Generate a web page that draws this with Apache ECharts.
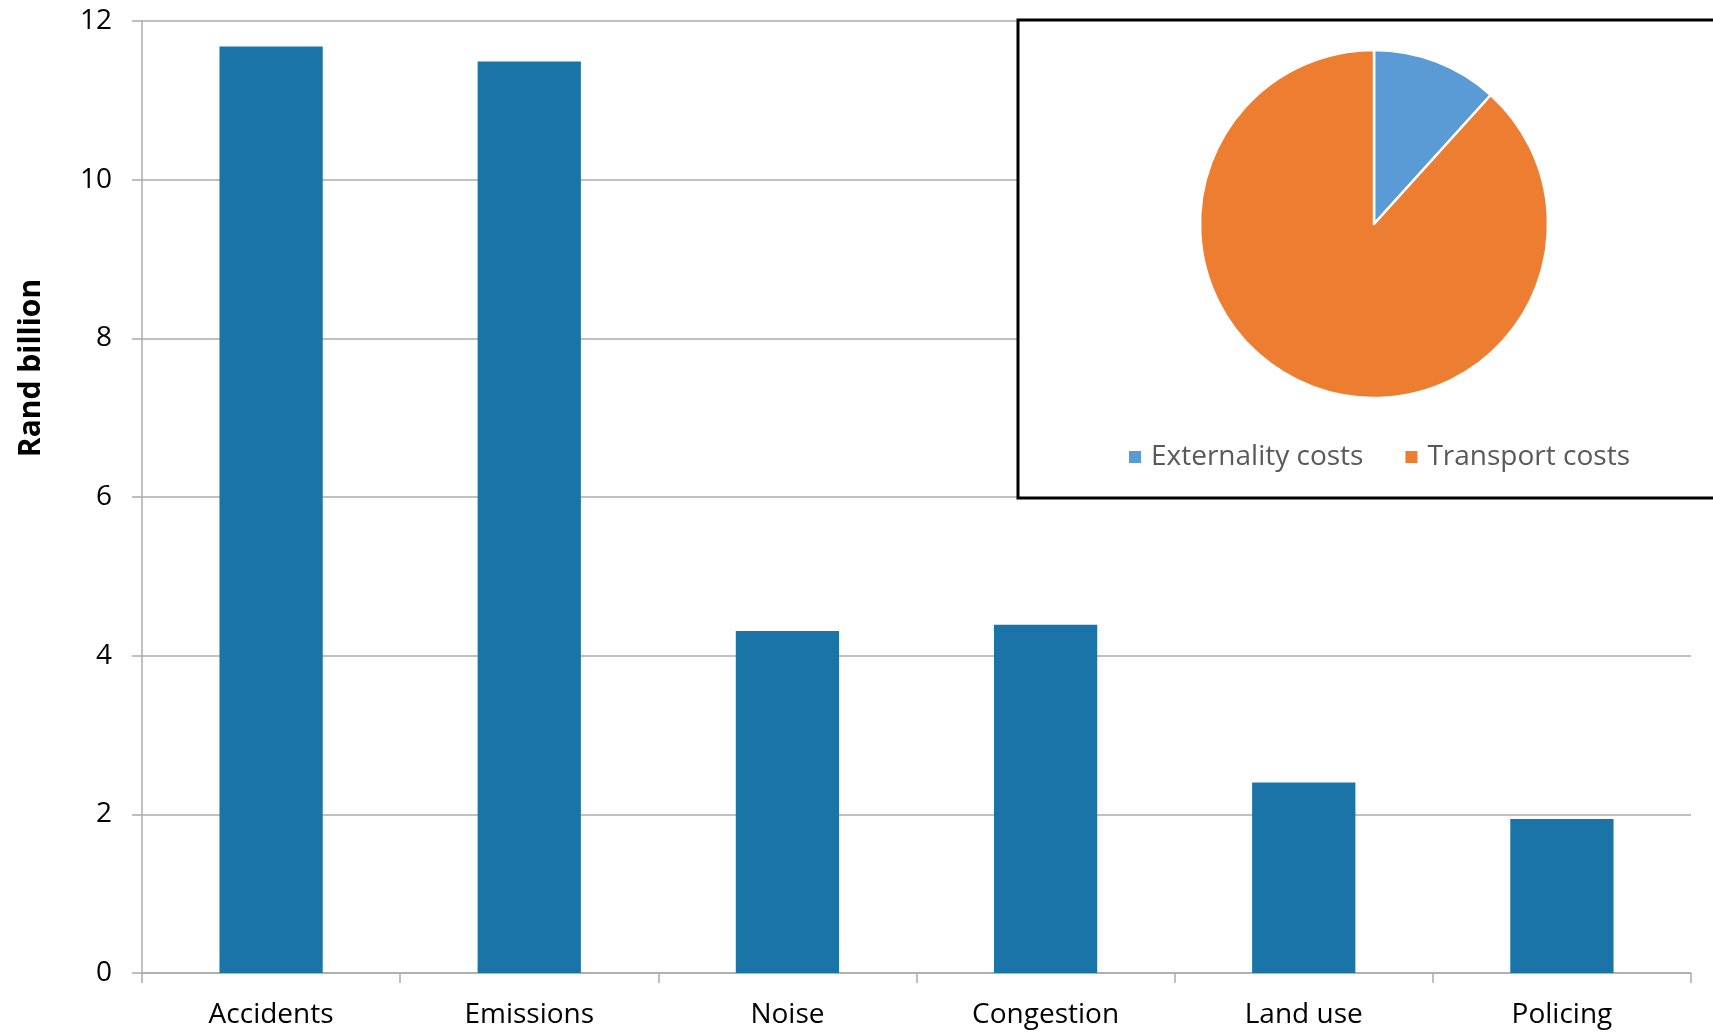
<!DOCTYPE html>
<html>
<head>
<meta charset="utf-8">
<title>External costs of road transport</title>
<script src="https://cdn.jsdelivr.net/npm/echarts@6/dist/echarts.min.js"></script>
<style>
  html, body { margin: 0; padding: 0; background: #fff; }
  #chart { width: 1713px; height: 1034px; }
</style>
</head>
<body>
<div id="chart"></div>
<script>
// Externality cost categories (Rand billion)
const categories = ['Accidents', 'Emissions', 'Noise', 'Congestion', 'Land use', 'Policing'];
const externalityValues = [11.68, 11.49, 4.31, 4.39, 2.4, 1.94];

// Share of externality costs in total costs (inset pie)
const pieNames = ['Externality costs', 'Transport costs'];
const pieValues = [36.2, 273];
const pieColors = ['#5B9BD5', '#ED7D31'];

// Value axis ticks
const yMin = 0, yMax = 12, yStep = 2;

const FONT = '"Open Sans", "Liberation Sans", sans-serif';
const chart = echarts.init(document.getElementById('chart'), null, { renderer: 'canvas' });

chart.setOption({
  animation: false,
  backgroundColor: '#ffffff',
  grid: { left: 142, right: 22, top: 21, bottom: 61 },
  xAxis: {
    type: 'category',
    data: categories,
    axisLine: { lineStyle: { color: '#ABABAB', width: 1.5 } },
    axisTick: { show: true, length: 10, lineStyle: { color: '#ABABAB', width: 1.5 } },
    axisLabel: { color: '#000', fontFamily: FONT, fontSize: 28, margin: 28 }
  },
  yAxis: {
    type: 'value',
    min: yMin, max: yMax, interval: yStep,
    axisLine: { show: true, lineStyle: { color: '#ABABAB', width: 1.5 } },
    axisTick: { show: true, length: 10, lineStyle: { color: '#ABABAB', width: 1.5 } },
    splitLine: { lineStyle: { color: '#ABABAB', width: 1.5 } },
    axisLabel: { color: '#000', fontFamily: FONT, fontSize: 28, margin: 30 }
  },
  legend: {
    data: pieNames,
    left: 1122, top: 438,
    icon: 'rect', itemWidth: 14, itemHeight: 14, itemGap: 40,
    selectedMode: false,
    textStyle: { color: '#595959', fontFamily: FONT, fontSize: 28, padding: [0, 0, 0, 4] }
  },
  graphic: [
    {
      type: 'rect', z: 1,
      shape: { x: 1018, y: 20, width: 720, height: 478 },
      style: { fill: '#ffffff', stroke: '#000000', lineWidth: 3 }
    },
    {
      type: 'text', z: 3,
      x: 31, y: 368, rotation: Math.PI / 2,
      style: {
        text: 'Rand billion', fill: '#000', font: 'bold 30px ' + FONT,
        align: 'center', verticalAlign: 'middle'
      }
    }
  ],
  series: [
    {
      type: 'bar',
      data: externalityValues,
      barWidth: '40%',
      itemStyle: { color: '#1B74A8' }
    },
    {
      type: 'pie',
      z: 5,
      center: [1374, 224],
      radius: 174,
      startAngle: 90,
      clockwise: true,
      label: { show: false },
      labelLine: { show: false },
      emphasis: { disabled: true },
      data: pieNames.map((n, i) => ({ name: n, value: pieValues[i], itemStyle: { color: pieColors[i] } })),
      itemStyle: { borderColor: '#ffffff', borderWidth: 2.5 }
    }
  ]
});
</script>
</body>
</html>
